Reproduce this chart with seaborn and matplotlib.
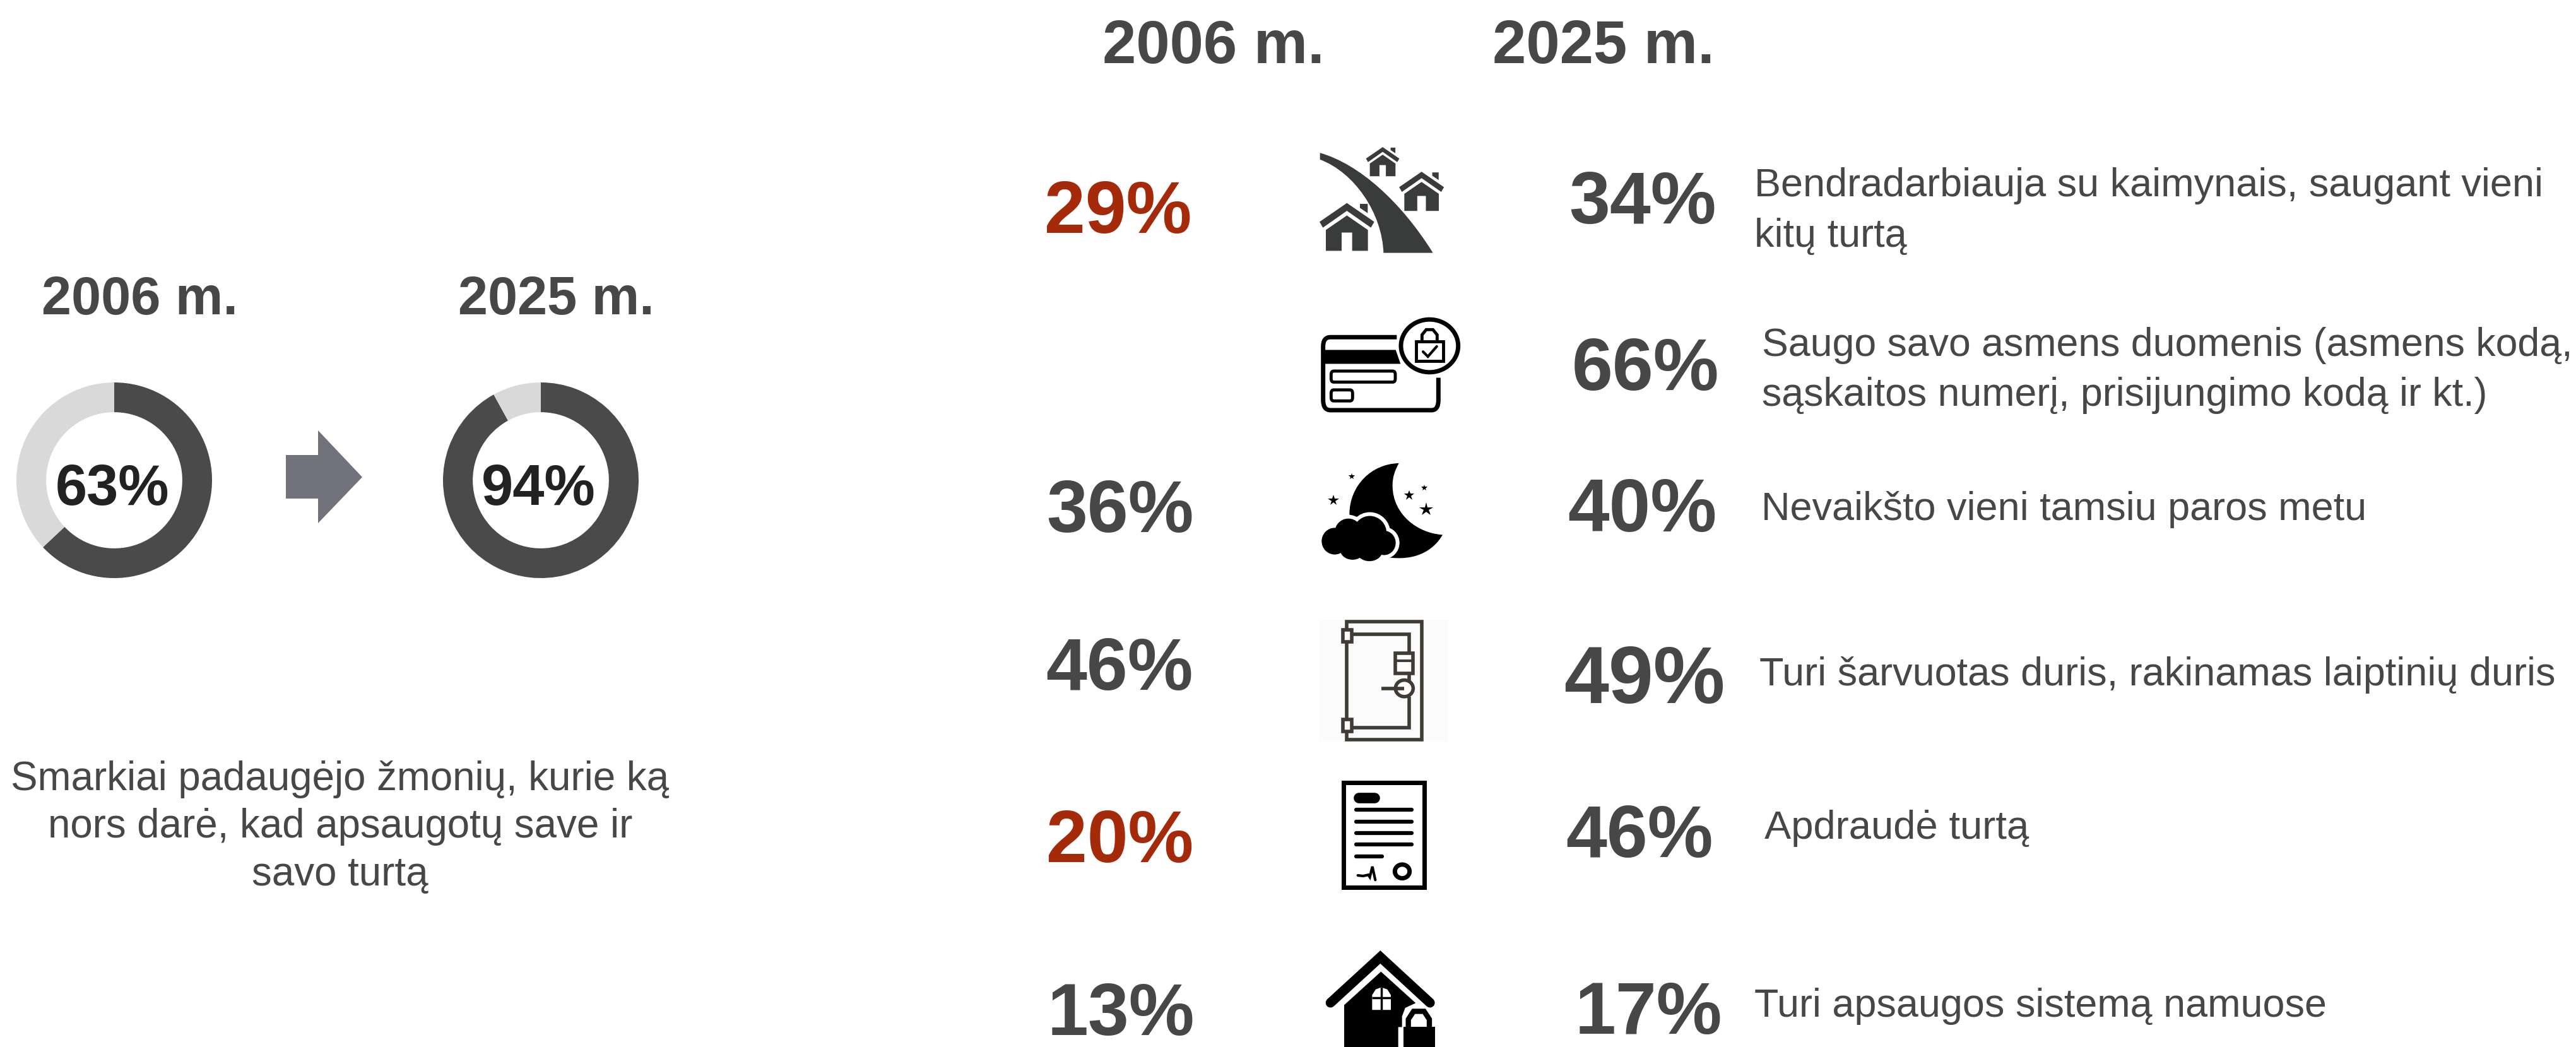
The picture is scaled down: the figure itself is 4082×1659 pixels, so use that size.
import matplotlib
matplotlib.use('Agg')
import matplotlib.pyplot as plt
import seaborn as sns
from matplotlib.patches import Ellipse, FancyBboxPatch, PathPatch, Polygon, Rectangle
from matplotlib.path import Path
from matplotlib.transforms import Affine2D

sns.set_theme(style='white')
plt.rcParams['font.family'] = ['Liberation Sans', 'DejaVu Sans']
plt.rcParams['hatch.color'] = '#f0f0f0'
plt.rcParams['hatch.linewidth'] = 2

# data
years = ['2006 m.', '2025 m.']
ring_filled = [63, 92]
ring_labels = ['63%', '94%']
caption = 'Smarkiai padaugėjo žmonių, kurie ką\nnors darė, kad apsaugotų save ir\nsavo turtą'

labels_2006 = ['29%', '36%', '46%', '20%', '13%']
labels_2025 = ['34%', '66%', '40%', '49%', '46%', '17%']
statements = ['Bendradarbiauja su kaimynais, saugant vieni\nkitų turtą',
              'Saugo savo asmens duomenis (asmens kodą,\nsąskaitos numerį, prisijungimo kodą ir kt.)',
              'Nevaikšto vieni tamsiu paros metu',
              'Turi šarvuotas duris, rakinamas laiptinių duris',
              'Apdraudė turtą',
              'Turi apsaugos sistemą namuose']

# colours
DARK = '#4a4a4a'
LIGHT = '#d9d9d9'
TEXT = '#474747'
RED = '#a52a0a'
ARROW = '#72727c'
ICON = '#3a3c3c'
SAFE = '#3f3b36'

# layout, in coordinates of the 1568 wide preview
S = 4082 / 1568
pos_2006 = [(680.5, 125.5), (682, 307.5), (681.5, 403.5), (681.5, 508.5), (682.5, 613.5)]
pos_2025 = [(1000, 119.5), (1001.5, 221), (999.5, 307), (1001, 410), (998, 505.5), (1003.5, 613)]
size_2025 = [84, 84, 85, 92, 84, 84]
pos_text = [(1068, 122), (1072.5, 219), (1072, 307.5), (1071, 408.5), (1074, 501.5), (1068, 610)]
size_text = [45.4, 45.1, 45.4, 45.4, 45.6, 45.3]

fig = plt.figure(figsize=(40.82, 16.59), dpi=100)
ax = fig.add_axes([0, 0, 1, 1])
ax.set_xlim(0, 4082)
ax.set_ylim(1659, 0)
ax.axis('off')


def put(x, y, s, size, color=TEXT, weight='normal', **kw):
    ax.text(x, y, s, fontsize=size, color=color, fontweight=weight,
            ha=kw.pop('ha', 'center'), va='center_baseline', **kw)


# rings
ring_x = [181, 857]
ring_y = 761
ring_r = 155
head_x = [222, 881]
label_x = [178, 853]
for i in range(2):
    rax = fig.add_axes([(ring_x[i] - ring_r) / 4082, 1 - (ring_y + ring_r) / 1659,
                        2 * ring_r / 4082, 2 * ring_r / 1659])
    rax.pie([ring_filled[i], 100 - ring_filled[i]], colors=[DARK, LIGHT], startangle=90,
            counterclock=False, radius=1, wedgeprops={'width': 0.304, 'linewidth': 0})
    rax.set_xlim(-1, 1)
    rax.set_ylim(-1, 1)
    put(head_x[i], 467, years[i], 61, weight='bold')
    put(label_x[i], 767, ring_labels[i], 65, color='#222222', weight='bold', zorder=5)

ax.add_patch(Polygon([(453, 721), (504, 721), (504, 682), (574, 756), (504, 829), (504, 790), (453, 790)],
                     closed=True, fc=ARROW, ec='none'))
put(539, 1296, caption, 45.8, linespacing=1.33, ha='center', multialignment='center')

# right side headers
put(738.5 * S, 25 * S, years[0], 69, weight='bold')
put(976 * S, 25 * S, years[1], 69, weight='bold')

for i, lab in enumerate(labels_2006):
    col = RED if lab in ('29%', '20%') else TEXT
    put(pos_2006[i][0] * S, pos_2006[i][1] * S, lab, 84, color=col, weight='bold')
for i, lab in enumerate(labels_2025):
    put(pos_2025[i][0] * S, pos_2025[i][1] * S, lab, size_2025[i], weight='bold')
for i, lab in enumerate(statements):
    put(pos_text[i][0] * S, pos_text[i][1] * S, lab, size_text[i], ha='left', linespacing=1.45)

# icons, drawn in the coordinates of the crops
top = Affine2D().scale(1 / 3, 1 / 2.178).translate(2040, 200) + ax.transData
low = Affine2D().scale(1 / 3, 1 / 2.21).translate(2040, 950) + ax.transData


def bez(verts, codes, tr, color='black', z=3):
    ax.add_patch(PathPatch(Path(verts, codes), fc=color, ec='none', transform=tr, zorder=z))


def poly(pts, tr, color='black', z=3):
    ax.add_patch(Polygon(pts, closed=True, fc=color, ec='none', transform=tr, zorder=z))


def line(pts, tr, lw, color='black', z=3, cap='round'):
    ax.plot([p[0] for p in pts], [p[1] for p in pts], color=color, lw=lw, transform=tr,
            zorder=z, solid_capstyle=cap, solid_joinstyle='miter')


def pill(x, y, w, h, lw):
    ax.add_patch(FancyBboxPatch((x, y), w, h, boxstyle='round,pad=0,rounding_size=12', fc='none',
                                ec='black', lw=lw, transform=top, zorder=3))


def house(cx, apex, s):
    def p(x, y):
        return (cx + x * s, apex + y * s)
    poly([p(0, 0), p(130, 65), p(114, 85), p(0, 27), p(-114, 85), p(-130, 65)], top, ICON)
    poly([p(62, 3), p(99, 3), p(99, 35), p(62, 17)], top, ICON)
    poly([p(0, 43), p(100, 93), p(100, 165), p(25, 165), p(25, 102), p(-25, 102),
          p(-25, 165), p(-100, 165), p(-100, 93)], top, ICON)


M, L, C, Z = Path.MOVETO, Path.LINETO, Path.CURVE4, Path.CLOSEPOLY

# road with houses
bez([(155, 92), (340, 130), (540, 260), (692, 437), (457, 437), (450, 300), (320, 160), (155, 115), (155, 92)],
    [M, C, C, C, L, C, C, C, Z], top, ICON)
house(283, 265, 1.0)
house(453, 72, 0.61)
house(638, 157, 0.82)

# card with lock
ax.add_patch(PathPatch(Path([(520, 728), (205, 728), (170, 728), (170, 760), (170, 945), (170, 980), (205, 980),
                             (685, 980), (718, 980), (718, 945), (718, 868)],
                            [M, L, Path.CURVE3, Path.CURVE3, L, Path.CURVE3, Path.CURVE3, L, Path.CURVE3,
                             Path.CURVE3, L]),
                       fc='none', ec='black', lw=5, transform=top, zorder=3))
poly([(170, 772), (515, 772), (538, 820), (170, 820)], top)
pill(208, 845, 305, 38, 3.5)
pill(208, 910, 102, 38, 3.5)
ax.add_patch(Ellipse((676, 758), 272, 182, fc='white', ec='black', lw=5, transform=top, zorder=3))
ax.add_patch(Rectangle((612, 742), 130, 68, fc='none', ec='black', lw=3.5, transform=top, zorder=4))
line([(640, 742), (640, 720), (660, 702), (692, 702), (712, 720), (712, 742)], top, 3.5, z=4)
line([(645, 778), (668, 795), (710, 760)], top, 3, z=4)

# moon and cloud
bez([(530, 1163), (400, 1165), (295, 1240), (295, 1340), (480, 1488), (600, 1500), (690, 1470), (738, 1410),
     (620, 1405), (500, 1340), (500, 1240), (500, 1210), (510, 1190), (530, 1163), (530, 1163)],
    [M, C, C, C, L, C, C, C, C, C, C, C, C, C, Z], top)
cloud = [(225, 1432, 62, 46), (290, 1402, 65, 48), (392, 1405, 80, 60), (460, 1438, 55, 42),
         (310, 1460, 60, 36), (390, 1465, 62, 36)]
for x, y, a, b in cloud:
    ax.add_patch(Ellipse((x, y), 2 * a + 36, 2 * b + 26, fc='white', ec='none', transform=top, zorder=4))
for x, y, a, b in cloud:
    ax.add_patch(Ellipse((x, y), 2 * a, 2 * b, fc='black', ec='none', transform=top, zorder=5))
for x, y, ms in [(218, 1292, 13), (307, 1208, 7), (578, 1275, 12), (652, 1248, 7), (660, 1322, 16)]:
    ax.plot([x], [y], marker='*', ms=ms, color='black', mew=0, transform=top, zorder=5)

# safe door
ax.add_patch(Rectangle((153, 70), 612, 427, fc='#fbfbfb', ec='none', hatch='////', transform=low, zorder=2))
ax.add_patch(Rectangle((281, 78), 358, 412, fc='none', ec=SAFE, lw=4, transform=low, zorder=3))
line([(285, 122), (578, 122), (578, 185)], low, 4, SAFE, cap='butt')
line([(578, 262), (578, 285)], low, 4, SAFE, cap='butt')
line([(578, 340), (578, 448), (285, 448)], low, 4, SAFE, cap='butt')
for y0 in (102, 415):
    ax.add_patch(Rectangle((263, y0 + 4), 44, 43, fc='white', ec=SAFE, lw=4, transform=low, zorder=4))
ax.add_patch(Rectangle((514, 188), 84, 70, fc='white', ec=SAFE, lw=4, transform=low, zorder=4))
line([(514, 215), (598, 215)], low, 3, SAFE, z=5, cap='butt')
ax.add_patch(Ellipse((556, 311), 84, 58, fc='white', ec=SAFE, lw=4, transform=low, zorder=4))
line([(448, 311), (556, 311)], low, 4, SAFE, z=5, cap='butt')

# insurance paper
ax.add_patch(Rectangle((268, 640), 382, 367, fc='white', ec='black', lw=5, transform=low, zorder=3))
line([(340, 693), (414, 693)], low, 12, z=4)
for y in (737, 777, 818, 858):
    line([(328, y), (592, y)], low, 4.5, z=4)
line([(328, 899), (450, 899)], low, 4.5, z=4)
line([(335, 966), (360, 968), (385, 964), (392, 972), (404, 935), (418, 982)], low, 3, z=4)
ax.add_patch(Ellipse((546, 952), 70, 48, fc='white', ec='black', lw=5, transform=low, zorder=4))

# house with padlock
line([(205, 1412), (442, 1252), (678, 1412)], low, 11, z=3)
poly([(445, 1303), (610, 1413), (560, 1430), (545, 1460), (545, 1497), (527, 1497), (527, 1568),
      (270, 1568), (270, 1420)], low)
poly([(403, 1437), (403, 1385), (420, 1365), (447, 1358), (475, 1365), (492, 1385), (492, 1437)], low, 'white', 4)
line([(447, 1358), (447, 1437)], low, 2.5, z=5, cap='butt')
line([(403, 1395), (492, 1395)], low, 2.5, z=5, cap='butt')
poly([(552, 1497), (702, 1497), (702, 1580), (552, 1580)], low)
line([(575, 1500), (575, 1470), (600, 1442), (650, 1442), (675, 1470), (675, 1500)], low, 6, cap='butt')

fig.savefig('out.png', dpi=100, facecolor='white')
